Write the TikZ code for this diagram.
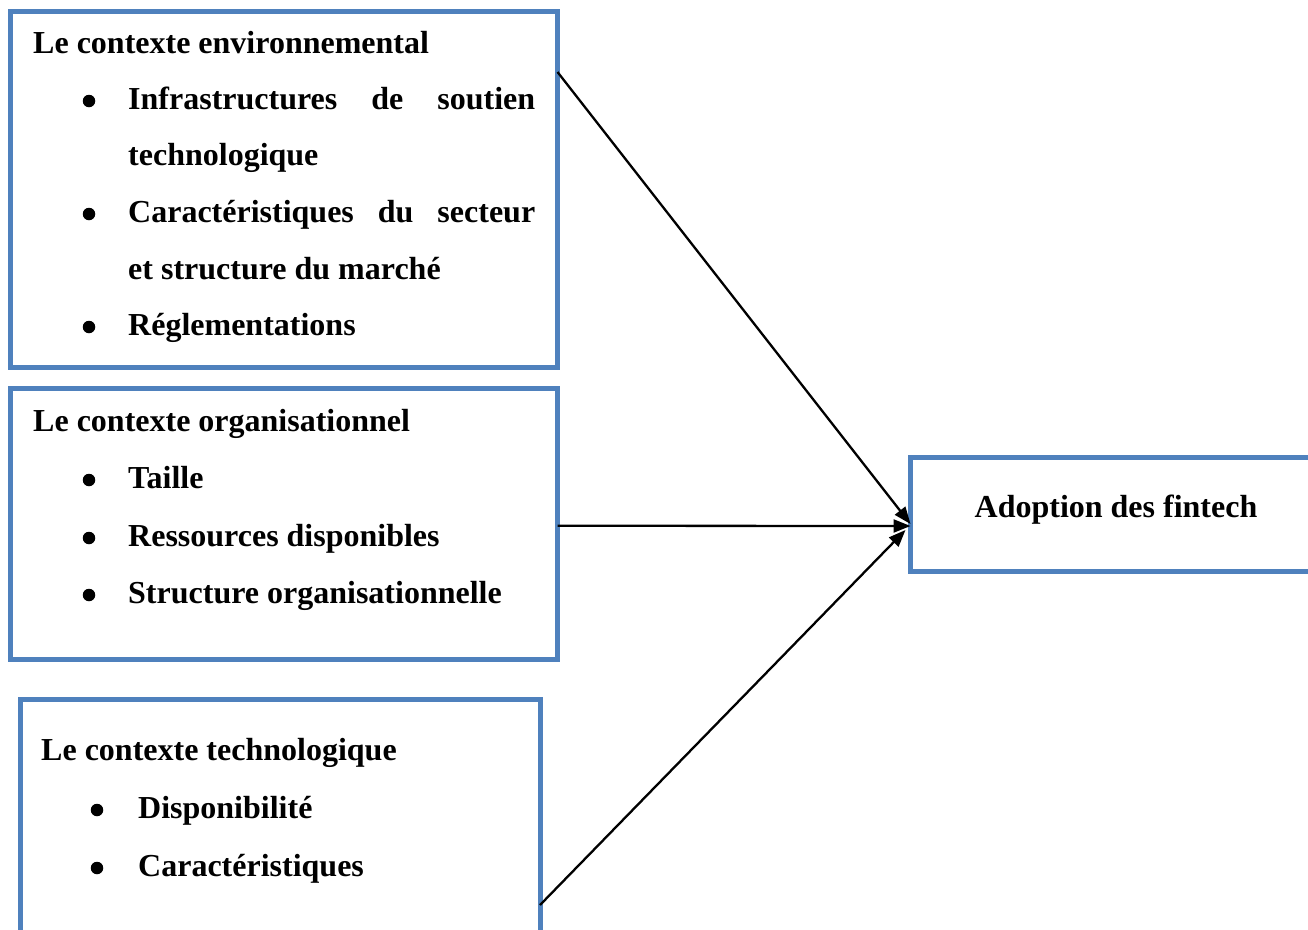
\documentclass[tikz,border=0pt]{standalone}
\usepackage{fontspec}
\setmainfont{Liberation Serif}
\usetikzlibrary{arrows.meta}
\definecolor{boxblue}{RGB}{79,129,189}
\tikzset{ctxbox/.style={draw=boxblue,line width=5pt,outer sep=0pt,inner sep=0pt}}
\tikzset{txt/.style={anchor=base west,inner sep=0pt,font=\fontsize{32}{38}\selectfont\bfseries}}
\tikzset{dot/.style={circle,fill=black,inner sep=0pt,minimum size=12.5pt}}
\tikzset{link/.style={-{Triangle[length=17pt,width=13pt]},line width=2.3pt}}

\begin{document}
\begin{tikzpicture}[x=1pt,y=-1pt]
\useasboundingbox (0,0) rectangle (1308,929);
\clip (0,0) rectangle (1308,929);

% the four boxes
\node [ctxbox,minimum width=547pt,minimum height=356.5pt] (env) at (284,189.25) {};
\node [ctxbox,minimum width=547pt,minimum height=270.5pt] (org) at (284,523.75) {};
\node [ctxbox,minimum width=520pt,minimum height=246pt] (tech) at (280,822) {};
\node [ctxbox,minimum width=419.5pt,minimum height=114pt] (adopt) at (1120.25,514.5) {};

% environnemental
\node [txt] (envtitle) at (33,53) {Le contexte environnemental};
\node [dot] (envd1) at (89,101) {};
\node [dot] (envd2) at (89,214) {};
\node [dot] (envd3) at (89,327) {};
\node [txt] (envi1) at (128,109) {\makebox[407pt][s]{Infrastructures de soutien}};
\node [txt] (envi1b) at (128,165) {technologique};
\node [txt] (envi2) at (128,222) {\makebox[407pt][s]{Caractéristiques du secteur}};
\node [txt] (envi2b) at (128,279) {et structure du marché};
\node [txt] (envi3) at (128,335) {Réglementations};

% organisationnel
\node [txt] (orgtitle) at (33,431) {Le contexte organisationnel};
\node [dot] (orgd1) at (89,480) {};
\node [dot] (orgd2) at (89,538) {};
\node [dot] (orgd3) at (89,595) {};
\node [txt] (orgi1) at (128,488) {Taille};
\node [txt] (orgi2) at (128,546) {Ressources disponibles};
\node [txt] (orgi3) at (128,603) {Structure organisationnelle};

% technologique
\node [txt] (techtitle) at (41,760) {Le contexte technologique};
\node [dot] (techd1) at (97,810) {};
\node [dot] (techd2) at (97,868) {};
\node [txt] (techi1) at (138,818) {Disponibilité};
\node [txt] (techi2) at (138,876) {Caractéristiques};

\node [txt,anchor=base] (adopttxt) at (1116,517) {Adoption des fintech};

\draw [link] ([yshift=-61pt]env.north east) -- ([yshift=-9.5pt]adopt.west);
\draw [link] ([yshift=-2pt]org.east) -- ([yshift=-11.5pt]adopt.west);
\draw [link] ([yshift=-206pt]tech.north east) -- ([xshift=-5pt,yshift=-15.5pt]adopt.west);
\end{tikzpicture}
\end{document}
